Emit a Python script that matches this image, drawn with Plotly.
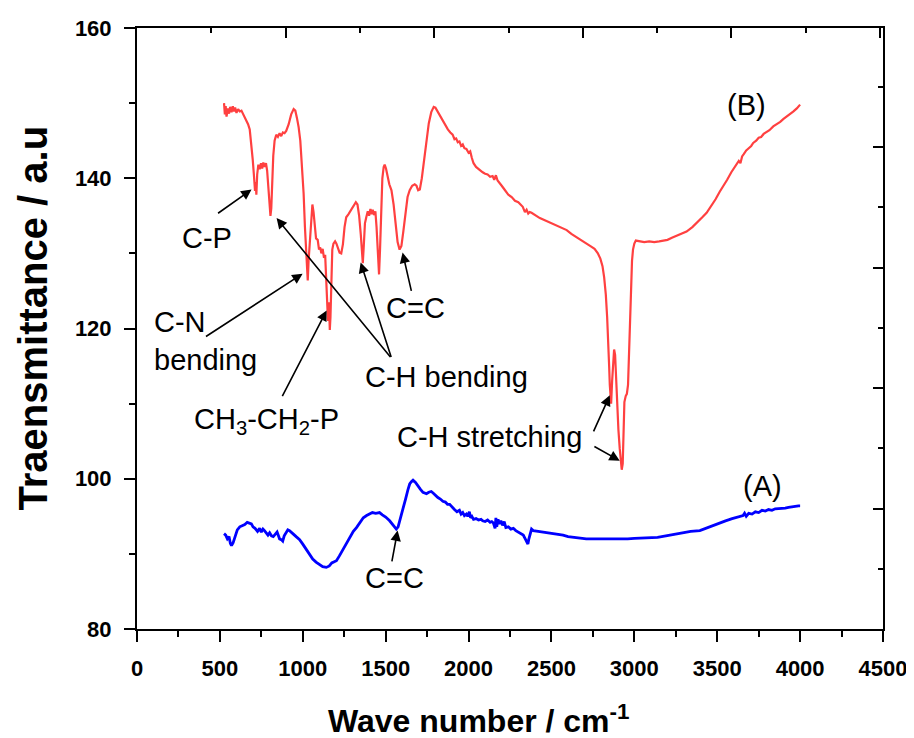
import plotly.graph_objects as go

# ---------------- data ----------------
wn_B = [525, 530, 535, 540, 548, 555, 562, 570, 578, 585, 592, 600, 610, 620, 630, 640, 655, 670, 680, 690,
        698, 705, 712, 716, 720, 725, 732, 740, 748, 755, 762, 770, 778, 785, 792, 798, 805, 810, 816, 822,
        830, 840, 850, 860, 870, 880, 890, 900, 915, 930, 945, 955, 965, 975, 985, 995, 1005, 1013, 1020, 1027,
        1030, 1035, 1042, 1050, 1058, 1065, 1072, 1080, 1090, 1098, 1105, 1112, 1120, 1128, 1135, 1140, 1147, 1152, 1158, 1163,
        1167, 1172, 1178, 1185, 1195, 1203, 1212, 1222, 1232, 1242, 1252, 1262, 1275, 1290, 1305, 1320, 1330, 1340, 1350, 1356,
        1362, 1368, 1375, 1383, 1392, 1400, 1408, 1415, 1422, 1430, 1438, 1445, 1452, 1460, 1466, 1472, 1480, 1488, 1494, 1502,
        1512, 1522, 1535, 1548, 1560, 1572, 1584, 1595, 1607, 1620, 1632, 1645, 1660, 1675, 1686, 1696, 1706, 1718, 1730, 1745,
        1760, 1775, 1790, 1800, 1815, 1830, 1845, 1860, 1875, 1890, 1904, 1915, 1925, 1935, 1945, 1955, 1965, 1975, 1987, 2000,
        2010, 2020, 2030, 2045, 2060, 2075, 2085, 2100, 2115, 2130, 2145, 2155, 2165, 2175, 2187, 2200, 2220, 2240, 2260, 2280,
        2300, 2315, 2327, 2340, 2350, 2360, 2369, 2380, 2400, 2430, 2460, 2500, 2530, 2560, 2592, 2620, 2650, 2680, 2710, 2740,
        2760, 2780, 2795, 2808, 2818, 2828, 2836, 2843, 2848, 2852, 2856, 2860, 2866, 2872, 2878, 2884, 2890, 2897, 2904, 2912,
        2918, 2924, 2930, 2936, 2940, 2948, 2955, 2962, 2968, 2974, 2980, 2986, 2992, 3000, 3009, 3030, 3060, 3090, 3120, 3150,
        3180, 3200, 3230, 3260, 3290, 3315, 3350, 3380, 3410, 3436, 3465, 3490, 3515, 3536, 3560, 3585, 3610, 3630, 3640, 3650,
        3660, 3675, 3690, 3705, 3717, 3735, 3750, 3765, 3780, 3800, 3815, 3838, 3860, 3880, 3900, 3920, 3940, 3960, 3980, 4000]
T_B = [150.0, 148.5, 149.6, 148.2, 149.3, 148.6, 149.5, 148.8, 149.6, 148.9, 149.4, 148.7, 149.2, 148.9, 149.0, 148.6, 148.0, 147.2, 146.5, 144.5,
       142.5, 140.5, 138.3, 139.5, 137.8, 140.5, 141.8, 141.2, 142.0, 141.3, 142.1, 141.5, 142.0, 141.0, 139.0, 136.5, 135.0, 136.0, 139.5, 143.0,
       145.0, 145.8, 145.5, 146.0, 145.6, 146.1, 146.0, 146.3, 147.2, 148.5, 149.2, 149.0, 148.0, 146.8, 145.0, 142.0, 138.0, 133.5, 130.0, 127.0,
       126.4, 129.0, 131.5, 135.0, 136.5, 135.5, 133.5, 132.0, 131.8, 130.5, 130.8, 130.0, 130.6, 129.4, 129.8, 127.0, 123.5, 121.0, 123.5, 119.8,
       121.5, 126.5, 130.5, 131.3, 131.6, 131.3, 130.6, 130.1, 130.0, 131.2, 133.5, 134.8, 135.2, 135.8, 136.4, 136.8, 136.5, 135.0, 132.5, 129.5,
       128.7, 131.0, 134.0, 134.8, 135.6, 135.0, 135.9, 135.2, 135.8, 135.1, 135.6, 133.5, 130.0, 127.2, 130.5, 136.0, 140.0, 141.5, 141.8, 141.3,
       140.2, 139.2, 138.4, 136.5, 134.0, 131.5, 130.5, 131.0, 133.0, 135.8, 137.5, 138.4, 139.0, 139.2, 139.0, 138.4, 138.5, 140.0, 142.3, 145.0,
       147.3, 148.8, 149.5, 149.4, 148.8, 148.3, 147.5, 147.0, 146.5, 146.1, 145.8, 145.2, 145.3, 144.8, 144.9, 144.3, 144.5, 144.0, 143.9, 143.4,
       143.6, 142.7, 142.0, 141.5, 141.2, 141.0, 140.8, 140.6, 140.5, 140.2, 140.3, 139.8, 140.4, 139.7, 139.4, 139.0, 138.4, 137.8, 137.5, 137.0,
       136.8, 136.5, 136.2, 135.5, 135.8, 135.3, 135.5, 135.4, 135.1, 134.7, 134.4, 134.0, 133.7, 133.4, 133.1, 132.6, 132.2, 131.7, 131.3, 130.9,
       130.6, 130.0, 129.3, 128.3, 126.8, 124.5, 121.5, 118.5, 115.0, 112.5, 110.5, 110.0, 113.0, 116.0, 117.2, 116.5, 113.0, 109.0, 106.5, 104.0,
       102.0, 101.2, 102.0, 107.0, 110.2, 111.0, 111.3, 112.5, 117.0, 122.0, 126.5, 129.0, 130.5, 131.3, 131.7, 131.6, 131.5, 131.6, 131.5, 131.6,
       131.7, 131.8, 132.1, 132.4, 132.7, 132.9, 133.5, 134.1, 134.8, 135.4, 136.3, 137.2, 138.2, 138.9, 139.8, 140.8, 141.6, 142.3, 142.0, 142.9,
       143.2, 143.7, 144.0, 144.3, 144.7, 145.0, 145.4, 145.5, 145.9, 146.2, 146.4, 146.9, 147.2, 147.5, 147.9, 148.2, 148.5, 148.9, 149.3, 149.8]

wn_A = [525, 535, 545, 555, 563, 570, 580, 592, 605, 620, 637, 650, 665, 679, 690, 700, 712, 727, 740, 750,
        760, 769, 780, 790, 800, 811, 822, 835, 845, 850, 860, 870, 879, 888, 900, 910, 920, 932, 945, 960,
        981, 1000, 1020, 1041, 1060, 1080, 1101, 1120, 1142, 1160, 1175, 1190, 1203, 1220, 1240, 1263, 1285, 1305, 1324, 1345,
        1365, 1385, 1403, 1420, 1440, 1463, 1480, 1500, 1524, 1540, 1555, 1564, 1575, 1590, 1604, 1620, 1635, 1645, 1655, 1665,
        1680, 1695, 1710, 1725, 1746, 1760, 1775, 1786, 1800, 1815, 1830, 1845, 1860, 1873, 1886, 1900, 1915, 1930, 1945, 1955,
        1965, 1975, 1987, 1995, 2005, 2012, 2020, 2030, 2045, 2060, 2075, 2085, 2100, 2115, 2130, 2140, 2150, 2160, 2165, 2170,
        2178, 2185, 2195, 2205, 2215, 2225, 2240, 2255, 2270, 2285, 2300, 2315, 2330, 2342, 2350, 2358, 2364, 2372, 2380, 2390,
        2399, 2420, 2450, 2480, 2510, 2540, 2570, 2600, 2630, 2653, 2680, 2710, 2740, 2770, 2800, 2830, 2860, 2894, 2930, 2960,
        3000, 3040, 3094, 3140, 3190, 3240, 3290, 3340, 3395, 3430, 3470, 3510, 3550, 3590, 3620, 3640, 3656, 3665, 3675, 3690,
        3710, 3730, 3750, 3770, 3790, 3810, 3830, 3850, 3870, 3890, 3910, 3930, 3950, 3970, 3990, 4000]
T_A = [92.7, 92.5, 92.0, 92.3, 91.4, 91.1, 91.5, 92.3, 93.2, 93.6, 93.8, 93.9, 94.2, 94.1, 94.0, 93.6, 93.4, 93.0, 93.4, 92.9,
       93.3, 93.1, 92.8, 92.5, 92.8, 92.4, 92.3, 92.6, 92.9, 92.6, 92.0, 91.9, 91.7, 92.4, 92.9, 93.2, 93.1, 92.9, 92.6, 92.3,
       91.9, 91.3, 90.6, 89.9, 89.3, 88.9, 88.6, 88.3, 88.2, 88.4, 88.8, 89.0, 89.1, 89.7, 90.5, 91.3, 92.3, 93.0, 93.5, 94.2,
       94.8, 95.1, 95.3, 95.5, 95.4, 95.5, 95.2, 94.9, 94.4, 93.9, 93.5, 93.3, 93.6, 94.8, 95.7, 97.3, 98.6, 99.3, 99.6, 99.8,
       99.5, 99.0, 98.6, 98.2, 98.0, 98.2, 98.3, 98.1, 97.8, 97.5, 97.3, 97.0, 96.9, 96.6, 96.6, 96.2, 95.9, 95.6, 95.8, 95.3,
       95.5, 95.1, 95.3, 95.0, 95.6, 94.8, 95.0, 94.6, 94.7, 94.5, 94.6, 94.4, 94.3, 94.5, 94.2, 94.3, 94.1, 93.4, 94.8, 93.6,
       94.6, 94.0, 94.4, 93.8, 94.3, 93.5, 93.6, 93.3, 93.4, 93.1, 92.9, 92.8, 92.5, 92.0, 91.5, 91.3, 92.0, 92.9, 93.3, 93.1,
       93.1, 93.0, 92.9, 92.8, 92.7, 92.6, 92.5, 92.3, 92.2, 92.1, 92.1, 92.0, 92.0, 92.0, 92.0, 92.0, 91.95, 92.0, 92.0, 92.0,
       92.05, 92.1, 92.1, 92.2, 92.4, 92.6, 92.8, 93.0, 93.1, 93.4, 93.8, 94.1, 94.4, 94.7, 94.9, 95.0, 95.1, 95.4, 95.0, 95.4,
       95.3, 95.6, 95.5, 95.8, 95.7, 95.9, 95.8, 96.0, 96.0, 96.1, 96.1, 96.2, 96.3, 96.3, 96.4, 96.4]

x_ticks = [0, 500, 1000, 1500, 2000, 2500, 3000, 3500, 4000, 4500]
y_ticks = [80, 100, 120, 140, 160]

# label text, x, y (data coords)
labels = [
    ("C-P", 425, 132.1, "center"),
    ("C-N<br>bending", 88, 118.4, "left"),
    ("CH<sub>3</sub>-CH<sub>2</sub>-P", 782, 107.7, "center"),
    ("C-H bending", 1361, 113.6, "left"),
    ("C=C", 1681, 122.7, "center"),
    ("C-H stretching", 2128, 105.6, "center"),
    ("(B)", 3679, 149.7, "center"),
    ("(A)", 3776, 99.1, "center"),
    ("C=C", 1554, 86.8, "center"),
]
# arrows: tail x, tail y, head x, head y
arrows = [
    (480, 135.2, 691, 138.5),
    (407, 118.8, 999, 127.3),
    (872, 110.8, 1144, 122.4),
    (1536, 116.0, 842, 134.7),
    (1536, 116.0, 1349, 128.8),
    (1657, 124.8, 1602, 130.1),
    (2750, 106.1, 2852, 111.1),
    (2750, 104.4, 2912, 102.4),
    (1536, 88.8, 1572, 93.1),
]

FONT = "Liberation Sans, Arial, sans-serif"

fig = go.Figure()
fig.add_trace(go.Scatter(x=wn_B, y=T_B, mode="lines", line=dict(color="rgb(255,64,64)", width=2.2),
                         showlegend=False, hoverinfo="skip"))
fig.add_trace(go.Scatter(x=wn_A, y=T_A, mode="lines", line=dict(color="rgb(0,0,255)", width=2.8),
                         showlegend=False, hoverinfo="skip"))
fig.add_trace(go.Scatter(x=[None], y=[None], xaxis="x2", yaxis="y2", showlegend=False, hoverinfo="skip"))

annotations = []
for txt, x, y, al in labels:
    annotations.append(dict(x=x, y=y, xref="x", yref="y", text=txt, showarrow=False,
                            xanchor=al, yanchor="middle", align="left",
                            font=dict(family=FONT, size=29, color="black")))
for tx, ty, hx, hy in arrows:
    annotations.append(dict(x=hx, y=hy, ax=tx, ay=ty, xref="x", yref="y", axref="x", ayref="y",
                            text="", showarrow=True, arrowhead=2, arrowsize=1.3, arrowwidth=1.6,
                            arrowcolor="black", standoff=0, startstandoff=0))
# axis titles
annotations.append(dict(xref="paper", yref="paper", x=0.458, y=0, yshift=-90, xanchor="center", yanchor="middle",
                        text="Wave number / cm<sup>-1</sup>", showarrow=False,
                        font=dict(family=FONT, size=32, color="black", weight="bold")))
annotations.append(dict(xref="paper", yref="paper", x=0, y=0.5, xshift=-105, yshift=10,
                        xanchor="center", yanchor="middle",
                        text="Traensmittance / a.u", showarrow=False, textangle=-90,
                        font=dict(family=FONT, size=40, color="black", weight="bold")))

axis_common = dict(showgrid=False, zeroline=False, showline=True, linecolor="black", linewidth=2,
                   tickcolor="black", tickwidth=2)

fig.update_layout(
    width=914, height=738,
    margin=dict(l=129, r=39, t=20, b=117, autoexpand=False),
    paper_bgcolor="white", plot_bgcolor="white",
    showlegend=False,
    xaxis=dict(range=[0, 4500], tickvals=x_ticks, ticktext=[str(v) for v in x_ticks],
               ticks="outside", ticklen=11, ticklabelstandoff=8,
               minor=dict(dtick=250, ticks="outside", ticklen=6, tickcolor="black", tickwidth=2),
               tickfont=dict(family=FONT, size=22, color="black", weight="bold"), **axis_common),
    yaxis=dict(range=[80, 160], tickvals=y_ticks, ticktext=[str(v) for v in y_ticks],
               ticks="outside", ticklen=11, ticklabelstandoff=8,
               minor=dict(dtick=10, ticks="outside", ticklen=6, tickcolor="black", tickwidth=2),
               tickfont=dict(family=FONT, size=22, color="black", weight="bold"), **axis_common),
    xaxis2=dict(overlaying="x", side="top", anchor="y", range=[0, 5.02], dtick=1, ticks="inside", ticklen=10,
                showticklabels=False,
                minor=dict(dtick=0.5, ticks="inside", ticklen=5, tickcolor="black", tickwidth=2), **axis_common),
    yaxis2=dict(overlaying="y", side="right", anchor="x", range=[0, 4.988], dtick=1, ticks="inside", ticklen=10,
                showticklabels=False,
                minor=dict(dtick=0.5, ticks="inside", ticklen=5, tickcolor="black", tickwidth=2), **axis_common),
    annotations=annotations,
)

fig.write_html("out.html")
